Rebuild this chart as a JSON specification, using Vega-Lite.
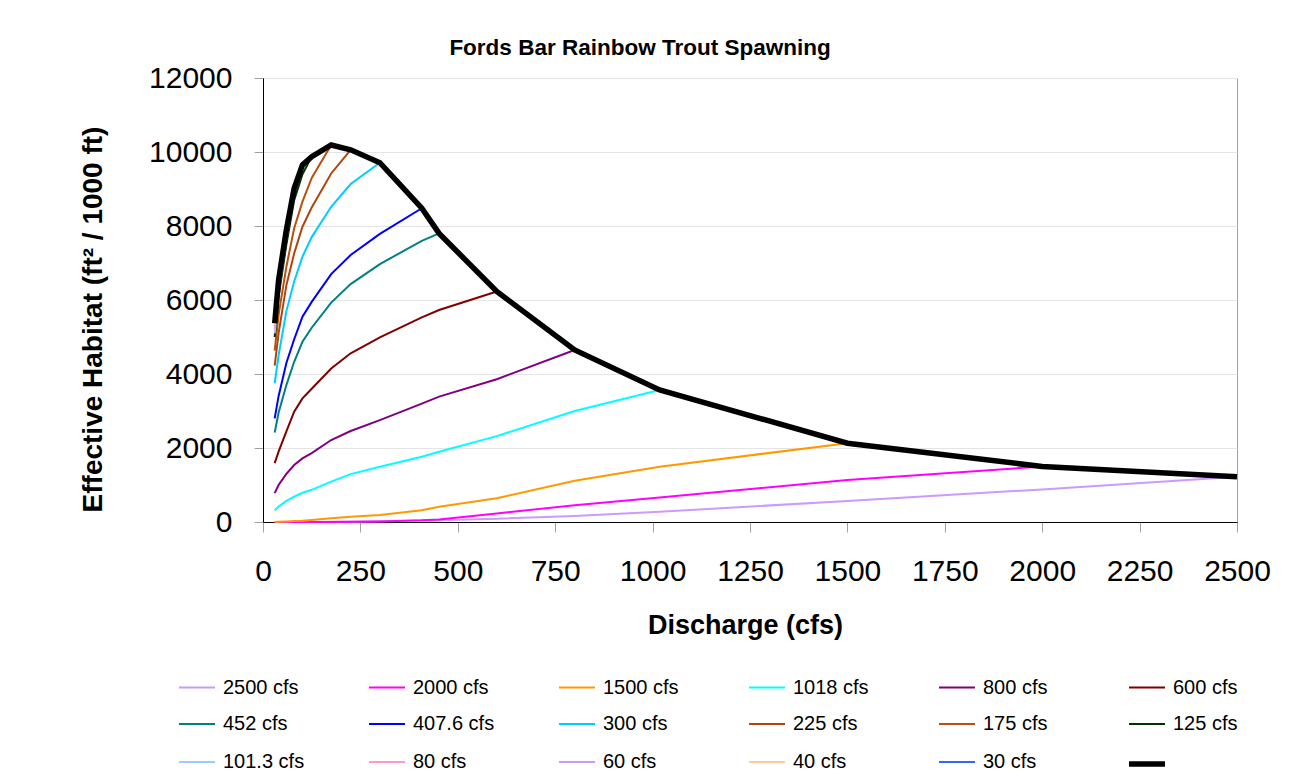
{
  "$schema": "https://vega.github.io/schema/vega-lite/v6.json",
  "autosize": {"type": "none"},
  "width": 974,
  "height": 444,
  "padding": {"left": 263, "top": 78, "right": 64, "bottom": 258},
  "background": "white",
  "config": {
    "font": "Liberation Sans",
    "view": {"stroke": "#A0A0A0", "strokeWidth": 1},
    "axis": {"labelColor": "#000000", "titleColor": "#000000"}
  },
  "title": {
    "text": "Fords Bar Rainbow Trout Spawning",
    "fontSize": 22.5,
    "fontWeight": "bold",
    "font": "Liberation Sans",
    "color": "#000000",
    "anchor": "middle",
    "dx": -110,
    "offset": 4
  },
  "data": {
    "values": [
      {"s": "2500 cfs", "q": 30, "h": 0}, {"s": "2500 cfs", "q": 40, "h": 0}, {"s": "2500 cfs", "q": 60, "h": 0}, {"s": "2500 cfs", "q": 80, "h": 0}, {"s": "2500 cfs", "q": 101.3, "h": 0}, {"s": "2500 cfs", "q": 125, "h": 0}, {"s": "2500 cfs", "q": 175, "h": 5}, {"s": "2500 cfs", "q": 225, "h": 10}, {"s": "2500 cfs", "q": 300, "h": 20}, {"s": "2500 cfs", "q": 407.6, "h": 40}, {"s": "2500 cfs", "q": 452, "h": 50}, {"s": "2500 cfs", "q": 600, "h": 90}, {"s": "2500 cfs", "q": 800, "h": 160}, {"s": "2500 cfs", "q": 1018, "h": 275}, {"s": "2500 cfs", "q": 1500, "h": 570}, {"s": "2500 cfs", "q": 2000, "h": 880}, {"s": "2500 cfs", "q": 2500, "h": 1225},
      {"s": "2000 cfs", "q": 30, "h": 0}, {"s": "2000 cfs", "q": 40, "h": 0}, {"s": "2000 cfs", "q": 60, "h": 0}, {"s": "2000 cfs", "q": 80, "h": 0}, {"s": "2000 cfs", "q": 101.3, "h": 0}, {"s": "2000 cfs", "q": 125, "h": 0}, {"s": "2000 cfs", "q": 175, "h": 0}, {"s": "2000 cfs", "q": 225, "h": 5}, {"s": "2000 cfs", "q": 300, "h": 15}, {"s": "2000 cfs", "q": 407.6, "h": 45}, {"s": "2000 cfs", "q": 452, "h": 70}, {"s": "2000 cfs", "q": 600, "h": 230}, {"s": "2000 cfs", "q": 800, "h": 455}, {"s": "2000 cfs", "q": 1018, "h": 665}, {"s": "2000 cfs", "q": 1500, "h": 1135}, {"s": "2000 cfs", "q": 2000, "h": 1500},
      {"s": "1500 cfs", "q": 30, "h": 0}, {"s": "1500 cfs", "q": 40, "h": 5}, {"s": "1500 cfs", "q": 60, "h": 15}, {"s": "1500 cfs", "q": 80, "h": 25}, {"s": "1500 cfs", "q": 101.3, "h": 35}, {"s": "1500 cfs", "q": 125, "h": 55}, {"s": "1500 cfs", "q": 175, "h": 100}, {"s": "1500 cfs", "q": 225, "h": 145}, {"s": "1500 cfs", "q": 300, "h": 190}, {"s": "1500 cfs", "q": 407.6, "h": 320}, {"s": "1500 cfs", "q": 452, "h": 410}, {"s": "1500 cfs", "q": 600, "h": 640}, {"s": "1500 cfs", "q": 800, "h": 1115}, {"s": "1500 cfs", "q": 1018, "h": 1495}, {"s": "1500 cfs", "q": 1500, "h": 2130},
      {"s": "1018 cfs", "q": 30, "h": 310}, {"s": "1018 cfs", "q": 40, "h": 420}, {"s": "1018 cfs", "q": 60, "h": 570}, {"s": "1018 cfs", "q": 80, "h": 685}, {"s": "1018 cfs", "q": 101.3, "h": 790}, {"s": "1018 cfs", "q": 125, "h": 870}, {"s": "1018 cfs", "q": 175, "h": 1090}, {"s": "1018 cfs", "q": 225, "h": 1295}, {"s": "1018 cfs", "q": 300, "h": 1495}, {"s": "1018 cfs", "q": 407.6, "h": 1765}, {"s": "1018 cfs", "q": 452, "h": 1900}, {"s": "1018 cfs", "q": 600, "h": 2320}, {"s": "1018 cfs", "q": 800, "h": 3000}, {"s": "1018 cfs", "q": 1018, "h": 3570},
      {"s": "800 cfs", "q": 30, "h": 780}, {"s": "800 cfs", "q": 40, "h": 1000}, {"s": "800 cfs", "q": 60, "h": 1300}, {"s": "800 cfs", "q": 80, "h": 1540}, {"s": "800 cfs", "q": 101.3, "h": 1720}, {"s": "800 cfs", "q": 125, "h": 1860}, {"s": "800 cfs", "q": 175, "h": 2215}, {"s": "800 cfs", "q": 225, "h": 2460}, {"s": "800 cfs", "q": 300, "h": 2755}, {"s": "800 cfs", "q": 407.6, "h": 3200}, {"s": "800 cfs", "q": 452, "h": 3390}, {"s": "800 cfs", "q": 600, "h": 3860}, {"s": "800 cfs", "q": 800, "h": 4650},
      {"s": "600 cfs", "q": 30, "h": 1590}, {"s": "600 cfs", "q": 40, "h": 1900}, {"s": "600 cfs", "q": 60, "h": 2450}, {"s": "600 cfs", "q": 80, "h": 2980}, {"s": "600 cfs", "q": 101.3, "h": 3340}, {"s": "600 cfs", "q": 125, "h": 3600}, {"s": "600 cfs", "q": 175, "h": 4150}, {"s": "600 cfs", "q": 225, "h": 4560}, {"s": "600 cfs", "q": 300, "h": 4990}, {"s": "600 cfs", "q": 407.6, "h": 5530}, {"s": "600 cfs", "q": 452, "h": 5730}, {"s": "600 cfs", "q": 600, "h": 6230},
      {"s": "452 cfs", "q": 30, "h": 2420}, {"s": "452 cfs", "q": 40, "h": 2950}, {"s": "452 cfs", "q": 60, "h": 3700}, {"s": "452 cfs", "q": 80, "h": 4330}, {"s": "452 cfs", "q": 101.3, "h": 4870}, {"s": "452 cfs", "q": 125, "h": 5250}, {"s": "452 cfs", "q": 175, "h": 5930}, {"s": "452 cfs", "q": 225, "h": 6430}, {"s": "452 cfs", "q": 300, "h": 6970}, {"s": "452 cfs", "q": 407.6, "h": 7600}, {"s": "452 cfs", "q": 452, "h": 7800},
      {"s": "407.6 cfs", "q": 30, "h": 2800}, {"s": "407.6 cfs", "q": 40, "h": 3400}, {"s": "407.6 cfs", "q": 60, "h": 4300}, {"s": "407.6 cfs", "q": 80, "h": 4940}, {"s": "407.6 cfs", "q": 101.3, "h": 5550}, {"s": "407.6 cfs", "q": 125, "h": 5950}, {"s": "407.6 cfs", "q": 175, "h": 6700}, {"s": "407.6 cfs", "q": 225, "h": 7215}, {"s": "407.6 cfs", "q": 300, "h": 7785}, {"s": "407.6 cfs", "q": 407.6, "h": 8480},
      {"s": "300 cfs", "q": 30, "h": 3750}, {"s": "300 cfs", "q": 40, "h": 4500}, {"s": "300 cfs", "q": 60, "h": 5700}, {"s": "300 cfs", "q": 80, "h": 6500}, {"s": "300 cfs", "q": 101.3, "h": 7170}, {"s": "300 cfs", "q": 125, "h": 7700}, {"s": "300 cfs", "q": 175, "h": 8520}, {"s": "300 cfs", "q": 225, "h": 9135}, {"s": "300 cfs", "q": 300, "h": 9710},
      {"s": "225 cfs", "q": 30, "h": 4225}, {"s": "225 cfs", "q": 40, "h": 5100}, {"s": "225 cfs", "q": 60, "h": 6400}, {"s": "225 cfs", "q": 80, "h": 7260}, {"s": "225 cfs", "q": 101.3, "h": 7980}, {"s": "225 cfs", "q": 125, "h": 8500}, {"s": "225 cfs", "q": 175, "h": 9420}, {"s": "225 cfs", "q": 225, "h": 10060},
      {"s": "175 cfs", "q": 30, "h": 4630}, {"s": "175 cfs", "q": 40, "h": 5600}, {"s": "175 cfs", "q": 60, "h": 6900}, {"s": "175 cfs", "q": 80, "h": 7940}, {"s": "175 cfs", "q": 101.3, "h": 8660}, {"s": "175 cfs", "q": 125, "h": 9300}, {"s": "175 cfs", "q": 175, "h": 10190},
      {"s": "125 cfs", "q": 30, "h": 5000}, {"s": "125 cfs", "q": 40, "h": 6100}, {"s": "125 cfs", "q": 60, "h": 7500}, {"s": "125 cfs", "q": 80, "h": 8700}, {"s": "125 cfs", "q": 101.3, "h": 9400}, {"s": "125 cfs", "q": 125, "h": 9875},
      {"s": "101.3 cfs", "q": 30, "h": 5100}, {"s": "101.3 cfs", "q": 40, "h": 6250}, {"s": "101.3 cfs", "q": 60, "h": 7650}, {"s": "101.3 cfs", "q": 80, "h": 8900}, {"s": "101.3 cfs", "q": 101.3, "h": 9650},
      {"s": "80 cfs", "q": 30, "h": 5200}, {"s": "80 cfs", "q": 40, "h": 6400}, {"s": "80 cfs", "q": 60, "h": 7800}, {"s": "80 cfs", "q": 80, "h": 9020},
      {"s": "60 cfs", "q": 30, "h": 5280}, {"s": "60 cfs", "q": 40, "h": 6480}, {"s": "60 cfs", "q": 60, "h": 7900},
      {"s": "40 cfs", "q": 30, "h": 5320}, {"s": "40 cfs", "q": 40, "h": 6540},
      {"s": "30 cfs", "q": 30, "h": 5350},
      {"s": "Envelope", "q": 30, "h": 5370}, {"s": "Envelope", "q": 40, "h": 6540}, {"s": "Envelope", "q": 60, "h": 7900}, {"s": "Envelope", "q": 80, "h": 9020}, {"s": "Envelope", "q": 101.3, "h": 9650}, {"s": "Envelope", "q": 125, "h": 9875}, {"s": "Envelope", "q": 175, "h": 10190}, {"s": "Envelope", "q": 225, "h": 10060}, {"s": "Envelope", "q": 300, "h": 9710}, {"s": "Envelope", "q": 407.6, "h": 8480}, {"s": "Envelope", "q": 452, "h": 7800}, {"s": "Envelope", "q": 600, "h": 6230}, {"s": "Envelope", "q": 800, "h": 4650}, {"s": "Envelope", "q": 1018, "h": 3570}, {"s": "Envelope", "q": 1500, "h": 2130}, {"s": "Envelope", "q": 2000, "h": 1500}, {"s": "Envelope", "q": 2500, "h": 1225}
    ]
  },
  "encoding": {
    "x": {
      "field": "q",
      "type": "quantitative",
      "scale": {"domain": [0, 2500], "nice": false},
      "axis": {
        "values": [0, 250, 500, 750, 1000, 1250, 1500, 1750, 2000, 2250, 2500],
        "format": "d",
        "grid": false,
        "domainColor": "#000000",
        "domainWidth": 1,
        "tickColor": "#A0A0A0",
        "tickSize": 10,
        "labelFontSize": 30,
        "labelPadding": 24,
        "labelFlush": false,
        "labelOverlap": false,
        "title": "Discharge (cfs)",
        "titleFontSize": 27,
        "titleFontWeight": "bold",
        "titleX": 482,
        "titleY": 111,
        "titleBaseline": "alphabetic"
      }
    },
    "y": {
      "field": "h",
      "type": "quantitative",
      "scale": {"domain": [0, 12000], "nice": false},
      "axis": {
        "values": [0, 2000, 4000, 6000, 8000, 10000, 12000],
        "format": "d",
        "grid": true,
        "gridColor": "#E4E4E4",
        "gridWidth": 1,
        "domainColor": "#000000",
        "domainWidth": 1,
        "tickColor": "#A0A0A0",
        "tickSize": 9,
        "labelFontSize": 30,
        "labelPadding": 22,
        "labelOverlap": false,
        "title": "Effective Habitat (ft² / 1000 ft)",
        "titleFontSize": 28,
        "titleFontWeight": "bold",
        "titleX": -162,
        "titleY": 241,
        "titleBaseline": "alphabetic"
      }
    },
    "color": {
      "field": "s",
      "type": "ordinal",
      "scale": {
        "type": "ordinal",
        "domain": ["2500 cfs", "2000 cfs", "1500 cfs", "1018 cfs", "800 cfs", "600 cfs", "452 cfs", "407.6 cfs", "300 cfs", "225 cfs", "175 cfs", "125 cfs", "101.3 cfs", "80 cfs", "60 cfs", "40 cfs", "30 cfs", "Envelope"],
        "range": ["#CC99FF", "#FF00FF", "#FF9900", "#00FFFF", "#800080", "#800000", "#008080", "#0000FF", "#00CCFF", "#B0460F", "#B8500F", "#003300", "#99CCFF", "#FF99CC", "#CC99FF", "#FFCC99", "#3366FF", "#000000"]
      },
      "legend": {
        "title": null,
        "orient": "none",
        "legendX": -87,
        "legendY": 589,
        "columns": 6,
        "direction": "horizontal",
        "gridAlign": "all",
        "symbolType": "stroke",
        "symbolSize": 1296,
        "labelFontSize": 20,
        "labelColor": "#000000",
        "labelOffset": 5,
        "columnPadding": 53,
        "rowPadding": 6,
        "padding": 0,
        "labelExpr": "datum.label == 'Envelope' ? '' : datum.label"
      }
    },
    "strokeWidth": {
      "field": "s",
      "type": "ordinal",
      "scale": {
        "type": "ordinal",
        "domain": ["2500 cfs", "2000 cfs", "1500 cfs", "1018 cfs", "800 cfs", "600 cfs", "452 cfs", "407.6 cfs", "300 cfs", "225 cfs", "175 cfs", "125 cfs", "101.3 cfs", "80 cfs", "60 cfs", "40 cfs", "30 cfs", "Envelope"],
        "range": [2, 2, 2, 2, 2, 2, 2, 2, 2, 2, 2, 2, 2, 2, 2, 2, 2, 5.5]
      },
      "legend": {
        "title": null,
        "orient": "none",
        "legendX": -87,
        "legendY": 589,
        "columns": 6,
        "direction": "horizontal",
        "gridAlign": "all",
        "symbolType": "stroke",
        "symbolSize": 1296,
        "labelFontSize": 20,
        "labelColor": "#000000",
        "labelOffset": 5,
        "columnPadding": 53,
        "rowPadding": 6,
        "padding": 0,
        "labelExpr": "datum.label == 'Envelope' ? '' : datum.label"
      }
    }
  },
  "layer": [
    {
      "transform": [{"filter": "datum.s != 'Envelope'"}],
      "mark": {"type": "line", "strokeJoin": "miter"}
    },
    {
      "transform": [{"filter": "datum.s == 'Envelope'"}],
      "mark": {"type": "line", "strokeJoin": "miter"}
    }
  ]
}
